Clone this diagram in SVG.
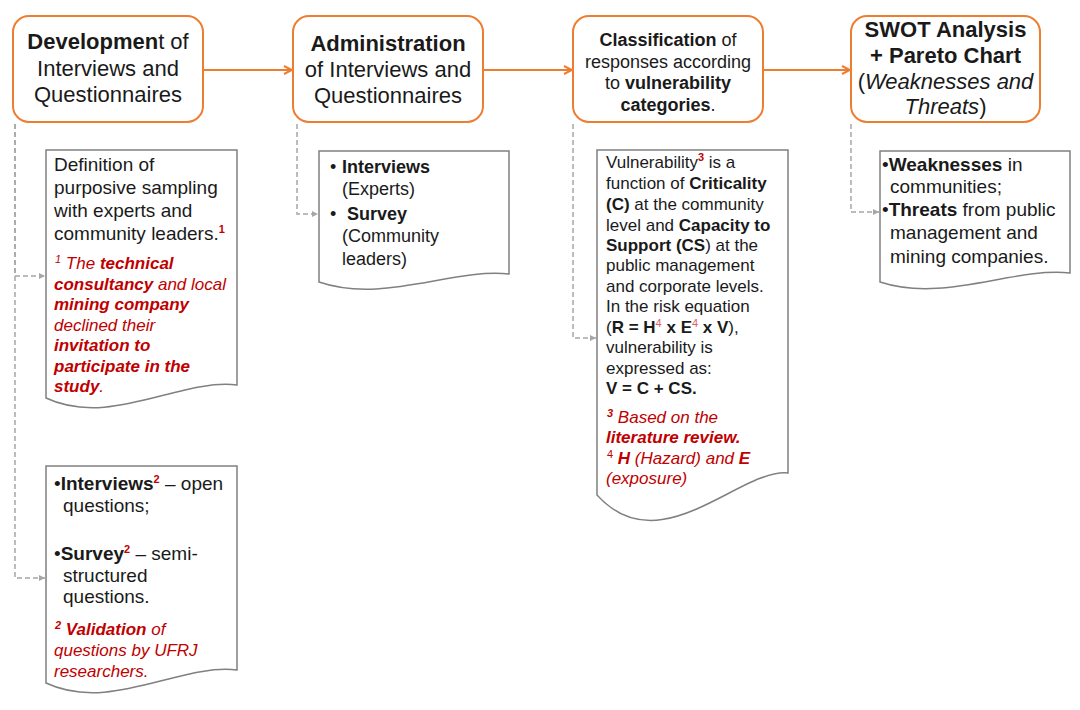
<svg xmlns="http://www.w3.org/2000/svg" width="1080" height="710" viewBox="0 0 1080 710">
<defs>
<style>
text{font-family:"Liberation Sans",Arial,sans-serif;fill:#1a1a1a}
.box{fill:#fff;stroke:#ED7D31;stroke-width:2}
.doc{fill:#fff;stroke:#808080;stroke-width:1.5}
.flow{stroke:#ED7D31;stroke-width:2;fill:none;marker-end:url(#oa)}
.dash{stroke:#A6A6A6;stroke-width:1.5;stroke-dasharray:5,3;fill:none;marker-end:url(#ga)}
.t22{font-size:22px}
.t18{font-size:18px}
.t185{font-size:19px}
.t17{font-size:17px}
.t19{font-size:19px}
.b{font-weight:bold}
.i{font-style:italic}
.r{fill:#C00000}
.rl{fill:#E06060}
.sup{font-size:11px;font-weight:bold;fill:#C00000}
</style>
<marker id="oa" viewBox="0 0 10 10" refX="9" refY="5" markerWidth="10" markerHeight="10" markerUnits="userSpaceOnUse" orient="auto">
<path d="M1,1 L9,5 L1,9" fill="none" stroke="#ED7D31" stroke-width="2"/>
</marker>
<marker id="ga" viewBox="0 0 6 6" refX="6" refY="3" markerWidth="6" markerHeight="6" markerUnits="userSpaceOnUse" orient="auto">
<path d="M0,0 L6,3 L0,6 z" fill="#A6A6A6"/>
</marker>
</defs>
<rect width="1080" height="710" fill="#fff"/>

<g id="connectors">
<path class="flow" d="M203,70 H292"/>
<path class="flow" d="M483,70 H572"/>
<path class="flow" d="M763,70 H850"/>
<path class="dash" d="M15,124 V276 H45"/>
<path class="dash" d="M15,124 V578 H45"/>
<path class="dash" d="M297,124 V214 H318"/>
<path class="dash" d="M573,124 V338 H596"/>
<path class="dash" d="M851,124 V212 H879"/>
</g>

<g id="box1">
<rect class="box" x="13" y="16" width="190" height="106" rx="16"/>
<text class="t22" text-anchor="middle" x="108" y="49"><tspan class="b">Developmen</tspan>t of</text>
<text class="t22" text-anchor="middle" x="108" y="76">Interviews and</text>
<text class="t22" text-anchor="middle" x="108" y="102">Questionnaires</text>
</g>

<g id="box2">
<rect class="box" x="293" y="16" width="190" height="106" rx="16"/>
<text class="t22 b" text-anchor="middle" x="388" y="51">Administration</text>
<text class="t22" text-anchor="middle" x="388" y="77">of Interviews and</text>
<text class="t22" text-anchor="middle" x="388" y="103">Questionnaires</text>
</g>

<g id="box3">
<rect class="box" x="573" y="16" width="190" height="106" rx="16"/>
<text class="t18" text-anchor="middle" x="668" y="46"><tspan class="b">Classification</tspan> of</text>
<text class="t18" text-anchor="middle" x="668" y="68">responses according</text>
<text class="t18" text-anchor="middle" x="668" y="89">to <tspan class="b">vulnerability</tspan></text>
<text class="t18" text-anchor="middle" x="668" y="111"><tspan class="b">categories</tspan>.</text>
</g>

<g id="box4">
<rect class="box" x="851" y="16" width="189" height="106" rx="16"/>
<text class="t22 b" text-anchor="middle" x="945.5" y="37">SWOT Analysis</text>
<text class="t22 b" text-anchor="middle" x="945.5" y="63">+ Pareto Chart</text>
<text class="t22" text-anchor="middle" x="945.5" y="89">(<tspan class="i">Weaknesses and</tspan></text>
<text class="t22" text-anchor="middle" x="945.5" y="114"><tspan class="i">Threats</tspan>)</text>
</g>

<g id="doc1">
<path class="doc" d="M46,150 H237 V385 C180,378 110,428 46,398 Z"/>
<text class="t185" x="54" y="171">Definition of</text>
<text class="t185" x="54" y="194">purposive sampling</text>
<text class="t185" x="54" y="217">with experts and</text>
<text class="t185" x="54" y="240">community leaders.<tspan class="sup" dy="-7">1</tspan></text>
<text class="t17 r i" x="55" y="269"><tspan class="sup" style="font-weight:normal" dy="-6">1</tspan><tspan dy="6"> The </tspan><tspan class="b">technical</tspan></text>
<text class="t17 r i" x="54" y="290"><tspan class="b">consultancy</tspan> and local</text>
<text class="t17 r i b" x="54" y="310">mining company</text>
<text class="t17 r i" x="54" y="331">declined their</text>
<text class="t17 r i b" x="54" y="351">invitation to</text>
<text class="t17 r i b" x="54" y="372">participate in the</text>
<text class="t17 r i" x="54" y="392"><tspan class="b">study</tspan>.</text>
</g>

<g id="doc2">
<path class="doc" d="M46,466 H237 V670 C180,663 110,713 46,683 Z"/>
<text class="t185" x="54" y="490">•<tspan class="b">Interviews</tspan><tspan class="sup" dy="-7">2</tspan><tspan dy="7"> – open</tspan></text>
<text class="t185" x="63" y="512">questions;</text>
<text class="t185" x="54" y="560">•<tspan class="b">Survey</tspan><tspan class="sup" dy="-7">2</tspan><tspan dy="7"> – semi-</tspan></text>
<text class="t185" x="63" y="582">structured</text>
<text class="t185" x="63" y="603">questions.</text>
<text class="t17 r i" x="55" y="635"><tspan class="sup" dy="-6">2</tspan><tspan dy="6" class="b"> Validation</tspan> of</text>
<text class="t17 r i" x="54" y="656">questions by UFRJ</text>
<text class="t17 r i" x="54" y="677">researchers.</text>
</g>

<g id="doc3">
<path class="doc" d="M319,151 H509 V274 C452,268 383,304 319,282 Z"/>
<text class="t18" x="330" y="173">•</text>
<text class="t18 b" x="342" y="173">Interviews</text>
<text class="t18" x="342" y="195">(Experts)</text>
<text class="t18" x="330" y="220">•</text>
<text class="t18 b" x="347" y="220">Survey</text>
<text class="t18" x="342" y="242">(Community</text>
<text class="t18" x="342" y="265">leaders)</text>
</g>

<g id="doc4">
<path class="doc" d="M597,150 H788 V473 C740,468 660,565 597,495 Z"/>
<text class="t17" x="606" y="168">Vulnerability<tspan class="sup" dy="-7">3</tspan><tspan dy="7"> is a</tspan></text>
<text class="t17" x="606" y="189">function of <tspan class="b">Criticality</tspan></text>
<text class="t17" x="606" y="210"><tspan class="b">(C)</tspan> at the community</text>
<text class="t17" x="606" y="231">level and <tspan class="b">Capacity to</tspan></text>
<text class="t17" x="606" y="251"><tspan class="b">Support (CS</tspan>) at the</text>
<text class="t17" x="606" y="271">public management</text>
<text class="t17" x="606" y="292">and corporate levels.</text>
<text class="t17" x="606" y="312">In the risk equation</text>
<text class="t17" x="606" y="333">(<tspan class="b">R = H</tspan><tspan class="rl" style="font-size:11px" dy="-6">4</tspan><tspan class="b" dy="6"> x E</tspan><tspan class="rl" style="font-size:11px" dy="-6">4</tspan><tspan class="b" dy="6"> x V</tspan>),</text>
<text class="t17" x="606" y="353">vulnerability is</text>
<text class="t17" x="606" y="374">expressed as:</text>
<text class="t17 b" x="606" y="394">V = C + CS.</text>
<text class="t17 r i" x="607" y="423"><tspan class="sup" dy="-6">3</tspan><tspan dy="6"> Based on the</tspan></text>
<text class="t17 r i b" x="606" y="443">literature review.</text>
<text class="t17 r i" x="607" y="464"><tspan style="font-size:11px;font-style:normal" dy="-6">4</tspan><tspan class="b" dy="6"> H</tspan> (Hazard) and <tspan class="b">E</tspan></text>
<text class="t17 r i" x="606" y="484">(exposure)</text>
</g>

<g id="doc5">
<path class="doc" d="M880,151 H1070 V273 C1013,267 944,303 880,282 Z"/>
<text class="t19" x="882" y="171">•<tspan class="b">Weaknesses</tspan> in</text>
<text class="t19" x="890" y="193">communities;</text>
<text class="t19" x="882" y="216">•<tspan class="b">Threats</tspan> from public</text>
<text class="t19" x="890" y="239">management and</text>
<text class="t19" x="890" y="263">mining companies.</text>
</g>
</svg>
